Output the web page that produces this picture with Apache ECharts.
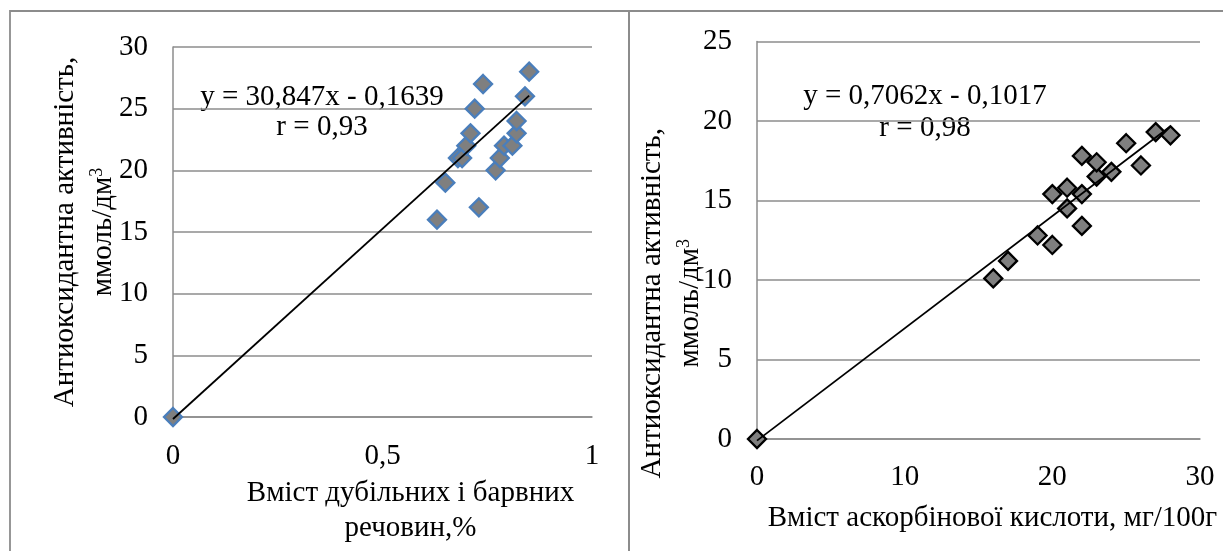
<!DOCTYPE html>
<html><head><meta charset="utf-8">
<script src="https://cdn.jsdelivr.net/npm/echarts@6/dist/echarts.min.js"></script>
<style>html,body{margin:0;padding:0;background:#fff}#c{width:1223px;height:551px}</style>
</head><body><div id="c"></div>
<script>
// ---- data: left panel (tannins & dyes, %) ----
const tanninX = [0, 0.63, 0.65, 0.68, 0.69, 0.70, 0.71, 0.72, 0.73, 0.74, 0.77, 0.78, 0.79, 0.81, 0.82, 0.82, 0.84, 0.85];
const tanninY = [0, 16, 19, 21, 21, 22, 23, 25, 17, 27, 20, 21, 22, 22, 23, 24, 26, 28];
const tanninSlope = 30.847, tanninIntercept = -0.1639;
const tanninEq = 'y = 30,847x - 0,1639', tanninR = 'r = 0,93';
const leftXTicks = ['0', '0,5', '1'];
const leftYTicks = ['0', '5', '10', '15', '20', '25', '30'];

// ---- data: right panel (ascorbic acid, mg/100g) ----
const ascorbX = [0, 16, 17, 19, 20, 20, 21, 21, 22, 22, 22, 23, 23, 24, 25, 26, 27, 28];
const ascorbY = [0, 10.1, 11.2, 12.8, 12.2, 15.4, 14.5, 15.8, 13.4, 15.4, 17.8, 16.5, 17.4, 16.8, 18.6, 17.2, 19.3, 19.1];
const ascorbSlope = 0.7062, ascorbIntercept = -0.1017;
const ascorbEq = 'y = 0,7062x - 0,1017', ascorbR = 'r = 0,98';
const rightXTicks = ['0', '10', '20', '30'];
const rightYTicks = ['0', '5', '10', '15', '20', '25'];

const yTitle = 'Антиоксидантна активність,\nммоль/дм{sup|3}';
const leftXTitle = 'Вміст дубільних і барвних\nречовин,%';
const rightXTitle = 'Вміст аскорбінової кислоти, мг/100г';

// ---- helpers ----
const FONT = 'Liberation Serif';
const FS = 29;
const GRID = '#8c8c8c';
function pairs(xs, ys) { return xs.map((x, i) => [x, ys[i]]); }
function trend(xs, m, b) {
  const lo = Math.min(...xs), hi = Math.max(...xs);
  return [[lo, m * lo + b], [hi, m * hi + b]];
}
function tickFmt(v) { return String(v).replace('.', ','); }

const chart = echarts.init(document.getElementById('c'), null, {renderer: 'canvas'});

const axisLabel = {fontFamily: FONT, fontSize: FS, color: '#000', formatter: tickFmt};
const ySup = {sup: {fontFamily: FONT, fontSize: 18, verticalAlign: 'top', color: '#000', padding: [4, 0, 0, 0]}};

chart.setOption({
  animation: false,
  grid: [
    {left: 173, top: 47, width: 419, height: 370},
    {left: 757, top: 30, width: 443, height: 409}
  ],
  xAxis: [
    {gridIndex: 0, type: 'value', min: 0, max: 1, interval: 0.5,
     axisLine: {show: true, onZero: false, lineStyle: {color: GRID, width: 1.5}}, axisTick: {show: false},
     splitLine: {show: false}, axisLabel: Object.assign({margin: 25}, axisLabel),
     name: leftXTitle, nameLocation: 'middle', nameGap: 59, nameMoveOverlap: false,
     nameTextStyle: {fontFamily: FONT, fontSize: FS, color: '#000', lineHeight: 35, padding: [0, 0, 0, 56]}},
    {gridIndex: 1, type: 'value', min: 0, max: 30, interval: 10,
     axisLine: {show: true, onZero: false, lineStyle: {color: GRID, width: 1.5}}, axisTick: {show: false},
     splitLine: {show: false}, axisLabel: Object.assign({margin: 24}, axisLabel),
     name: rightXTitle, nameLocation: 'middle', nameGap: 62, nameMoveOverlap: false,
     nameTextStyle: {fontFamily: FONT, fontSize: FS, color: '#000', lineHeight: 35, padding: [0, 0, 0, 28]}}
  ],
  yAxis: [
    {gridIndex: 0, type: 'value', min: 0, max: 30, interval: 5,
     axisLine: {show: true, lineStyle: {color: GRID, width: 1.5}}, axisTick: {show: false},
     splitLine: {show: true, lineStyle: {color: GRID, width: 1.5}},
     axisLabel: Object.assign({margin: 25}, axisLabel),
     name: yTitle, nameLocation: 'middle', nameGap: 51, nameMoveOverlap: false,
     nameTextStyle: {fontFamily: FONT, fontSize: FS, color: '#000', lineHeight: 38, rich: ySup}},
    {gridIndex: 1, type: 'value', min: 0, max: 25, interval: 5,
     axisLine: {show: true, lineStyle: {color: GRID, width: 1.5}}, axisTick: {show: false},
     splitLine: {show: true, lineStyle: {color: GRID, width: 1.5}},
     axisLabel: Object.assign({margin: 25}, axisLabel),
     name: yTitle, nameLocation: 'middle', nameGap: 48, nameMoveOverlap: false,
     nameTextStyle: {fontFamily: FONT, fontSize: FS, color: '#000', lineHeight: 38, padding: [0, 126, 0, 0], rich: ySup}}
  ],
  series: [
    {type: 'scatter', xAxisIndex: 0, yAxisIndex: 0, data: pairs(tanninX, tanninY),
     symbol: 'diamond', symbolSize: 18,
     itemStyle: {color: '#7f7f7f', borderColor: '#4a7ebb', borderWidth: 2.3, opacity: 1}, z: 2},
    {type: 'line', xAxisIndex: 0, yAxisIndex: 0, data: trend(tanninX, tanninSlope, tanninIntercept),
     symbol: 'none', clip: false, lineStyle: {color: '#000', width: 1.8}, z: 3},
    {type: 'scatter', xAxisIndex: 1, yAxisIndex: 1, data: pairs(ascorbX, ascorbY),
     symbol: 'diamond', symbolSize: 18,
     itemStyle: {color: '#7f7f7f', borderColor: '#000', borderWidth: 2.3, opacity: 1}, z: 2},
    {type: 'line', xAxisIndex: 1, yAxisIndex: 1, data: trend(ascorbX, ascorbSlope, ascorbIntercept),
     symbol: 'none', clip: false, lineStyle: {color: '#000', width: 1.8}, z: 3}
  ],
  graphic: [
    {type: 'rect', silent: true, z: -10, shape: {x: 10, y: 11, width: 619, height: 620},
     style: {fill: 'none', stroke: GRID, lineWidth: 1.8}},
    {type: 'rect', silent: true, z: -10, shape: {x: 629, y: 11, width: 700, height: 620},
     style: {fill: 'none', stroke: GRID, lineWidth: 2}},
    {type: 'text', silent: true, x: 322, y: 112,
     style: {text: tanninEq + '\n' + tanninR, fontFamily: FONT, fontSize: FS, fill: '#000',
             lineHeight: 30, align: 'center', verticalAlign: 'middle', textAlign: 'center', textVerticalAlign: 'middle'}},
    {type: 'text', silent: true, x: 925, y: 112,
     style: {text: ascorbEq + '\n' + ascorbR, fontFamily: FONT, fontSize: FS, fill: '#000',
             lineHeight: 32, align: 'center', verticalAlign: 'middle', textAlign: 'center', textVerticalAlign: 'middle'}}
  ]
});
</script></body></html>
